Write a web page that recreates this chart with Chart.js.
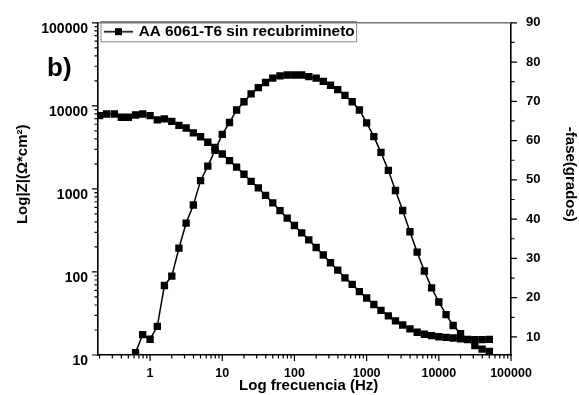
<!DOCTYPE html>
<html>
<head>
<meta charset="utf-8">
<script src="https://cdn.jsdelivr.net/npm/chart.js@4.4.0/dist/chart.umd.min.js"></script>
<style>
  body { margin: 0; background: #fff; }
  #caja { width: 579px; height: 395px; }
</style>
</head>
<body>
<div id="caja"><canvas id="graficoEIS"></canvas></div>
<script>
// Datos (Bode, AA 6061-T6 sin recubrimiento)

const frecuencia = [
  0.2, 0.25, 0.32, 0.4, 0.5, 0.63, 0.79,
  1, 1.26, 1.58, 2, 2.51, 3.16, 3.98, 5.01, 6.31, 7.94,
  10, 12.6, 15.8, 20, 25.1, 31.6, 39.8, 50.1, 63.1, 79.4,
  100, 126, 158, 200, 251, 316, 398, 501, 631, 794,
  1000, 1260, 1580, 2000, 2510, 3160, 3980, 5010, 6310, 7940,
  10000, 12600, 15800, 20000, 25100, 31600, 39800, 50100
];

// |Z| (ohm*cm2)
const modZ = [
  7620, 7980, 7980, 7280, 7280, 7770, 7980,
  7620, 6790, 6970, 6490, 5820, 5410, 4720, 4240, 3640, 3150,
  2630, 2190, 1830, 1500, 1230, 1030, 834, 679, 547, 444,
  362, 296, 243, 197, 160, 129, 105, 85, 71, 58,
  48.6, 40.6, 34.5, 29.6, 25.8, 23, 20.6, 18.8, 17.8, 17.1,
  16.6, 16.3, 16.0, 15.7, 15.4, 15.3, 15.3, 15.4
];

// -fase (grados), sin puntos por debajo del eje en baja frecuencia
const fase = [
  null, null, null, null, null, 6.0, 10.6,
  9.4, 12.7, 23.1, 25.5, 32.6, 39.0, 43.6, 49.8, 53.5, 57.5,
  61.6, 64.6, 67.8, 69.9, 71.9, 73.5, 74.8, 75.9, 76.5, 76.7,
  76.7, 76.7, 76.3, 75.9, 75.1, 74.1, 73.0, 71.5, 69.9, 67.8,
  64.5, 61.0, 57.0, 52.4, 47.3, 42.2, 36.8, 31.6, 26.8, 22.5,
  18.9, 15.7, 12.9, 10.8, 9.3, 7.8, 6.9, 6.3
];

const ticksFrec = [1, 10, 100, 1000, 10000, 100000];
const ticksZ = [10, 100, 1000, 10000, 100000];
const ticksFase = [10, 20, 30, 40, 50, 60, 70, 80, 90];

const fuente = "'Liberation Sans', Arial, sans-serif";

// marcas menores de un eje logaritmico (2..9 de cada decada)
function menoresLog(min, max) {
  const lista = [];
  for (let d = Math.floor(Math.log10(min)); d < Math.log10(max); d++) {
    for (let k = 2; k <= 9; k++) {
      const v = k * Math.pow(10, d);
      if (v >= min && v <= max) lista.push(v);
    }
  }
  return lista;
}

// simbolo de la leyenda: linea con cuadrado
const icono = document.createElement('canvas');
icono.width = 29;
icono.height = 9;
const ic = icono.getContext('2d');
ic.fillStyle = '#000';
ic.fillRect(0, 3.8, 29, 1.6);
ic.fillRect(11, 1, 7, 7);

// marcas de los ejes, marco superior, recuadro de la leyenda y "b)"
const marcas = {
  id: 'marcas',
  afterDraw(chart) {
    const ctx = chart.ctx;
    const a = chart.chartArea;
    const sx = chart.scales.x, sy = chart.scales.y, sy1 = chart.scales.y1;

    ctx.save();
    ctx.strokeStyle = '#000';
    ctx.lineWidth = 1.2;
    ctx.beginPath();
    ticksFrec.forEach(v => { const p = sx.getPixelForValue(v); ctx.moveTo(p, a.bottom); ctx.lineTo(p, a.bottom + 6); });
    menoresLog(sx.min, sx.max).forEach(v => { const p = sx.getPixelForValue(v); ctx.moveTo(p, a.bottom); ctx.lineTo(p, a.bottom + 3.5); });
    ticksZ.forEach(v => { const p = sy.getPixelForValue(v); ctx.moveTo(a.left, p); ctx.lineTo(a.left - 6, p); });
    menoresLog(sy.min, sy.max).forEach(v => { const p = sy.getPixelForValue(v); ctx.moveTo(a.left, p); ctx.lineTo(a.left - 3.5, p); });
    ticksFase.forEach(v => {
      const p = sy1.getPixelForValue(v);
      ctx.moveTo(a.right, p); ctx.lineTo(a.right + 6, p);
      const q = sy1.getPixelForValue(v + 5);
      if (v + 5 < 90) { ctx.moveTo(a.right, q); ctx.lineTo(a.right + 3.5, q); }
    });
    ctx.stroke();

    ctx.strokeStyle = '#777';
    ctx.lineWidth = 1.5;
    ctx.beginPath();
    ctx.moveTo(a.left, a.top);
    ctx.lineTo(a.right, a.top);
    ctx.stroke();

    const hb = chart.legend.legendHitBoxes[0];
    ctx.strokeStyle = '#888';
    ctx.lineWidth = 1;
    ctx.strokeRect(hb.left - 5, hb.top - 2.5, hb.width + 7, hb.height + 5);

    ctx.fillStyle = '#000';
    ctx.font = 'bold 26px ' + fuente;
    ctx.fillText('b)', 47, 76);
    ctx.restore();
  }
};

const dataEIS = {
  datasets: [{
    label: 'AA 6061-T6 sin recubrimineto',
    data: frecuencia.map((f, i) => ({x: f, y: modZ[i]})),
    yAxisID: 'y',
    borderColor: '#000',
    backgroundColor: '#000',
    borderWidth: 1.5,
    pointStyle: 'rect',
    pointRadius: 5.2,
    pointBorderWidth: 0,
    tension: 0,
  }, {
    label: '-fase',
    data: frecuencia.map((f, i) => ({x: f, y: fase[i]})),
    yAxisID: 'y1',
    borderColor: '#000',
    backgroundColor: '#000',
    borderWidth: 1.5,
    pointStyle: 'rect',
    pointRadius: 5.2,
    pointBorderWidth: 0,
    tension: 0,
  }]
};

const configEIS = {
  type: 'line',
  data: dataEIS,
  plugins: [marcas],
  options: {
    responsive: true,
    maintainAspectRatio: false,
    animation: false,
    layout: { padding: { top: 15, left: 0, right: 0, bottom: 0 } },
    plugins: {
      tooltip: { enabled: false },
      legend: {
        position: 'chartArea',
        align: 'start',
        // titulo vacio para bajar la leyenda dentro del marco
        title: { display: true, text: '', font: { size: 10 }, padding: 2 },
        labels: {
          usePointStyle: true,
          pointStyle: icono,
          pointStyleWidth: 25,
          padding: 8,
          color: '#000',
          font: { family: fuente, size: 15.3, weight: 'bold' },
          filter: item => item.datasetIndex === 0
        }
      }
    },
    scales: {
      x: {
        type: 'logarithmic',
        min: 0.19,
        max: 100000,
        afterBuildTicks: s => { s.ticks = ticksFrec.map(v => ({value: v})); },
        afterFit: s => { s.height = 40; },
        grid: { display: false, drawTicks: false },
        border: { color: '#000', width: 1.6 },
        ticks: {
          autoSkip: false, maxRotation: 0, padding: 11, color: '#000',
          font: { family: fuente, size: 12.5, weight: 'bold' },
          callback: v => String(v)
        },
        title: {
          display: true, text: '  Log frecuencia (Hz)', color: '#000',
          font: { family: fuente, size: 15, weight: 'bold' },
          padding: { top: 0, bottom: 0 }
        }
      },
      y: {
        type: 'logarithmic',
        position: 'left',
        min: 10,
        max: 100000,
        afterBuildTicks: s => { s.ticks = ticksZ.map(v => ({value: v})); },
        afterFit: s => { s.width = 98; },
        grid: { display: false, drawTicks: false },
        border: { color: '#000', width: 1.6 },
        ticks: {
          padding: 10, labelOffset: 6, color: '#000',
          font: { family: fuente, size: 14, weight: 'bold' },
          callback: v => String(v)
        },
        // espacios al inicio para subir el titulo como en el original
        title: {
          display: true, text: '       Log|Z|(Ω*cm²)', color: '#000',
          font: { family: fuente, size: 15, weight: 'bold' },
          padding: { top: 14, bottom: 0 }
        }
      },
      y1: {
        type: 'linear',
        position: 'right',
        min: 5.4,
        max: 90,
        afterBuildTicks: s => { s.ticks = ticksFase.map(v => ({value: v})); },
        afterFit: s => { s.width = 68; },
        grid: { display: false, drawTicks: false },
        border: { color: '#000', width: 1.6 },
        ticks: {
          padding: 15, color: '#000',
          font: { family: fuente, size: 13, weight: 'bold' }
        },
        title: {
          display: true, text: '-fase(grados)       ', color: '#000',
          font: { family: fuente, size: 15, weight: 'bold' },
          padding: { top: 0, bottom: 0 }
        }
      }
    }
  }
};

const graficoEIS = new Chart(
  document.getElementById('graficoEIS'),
  configEIS
);
</script>
</body>
</html>
